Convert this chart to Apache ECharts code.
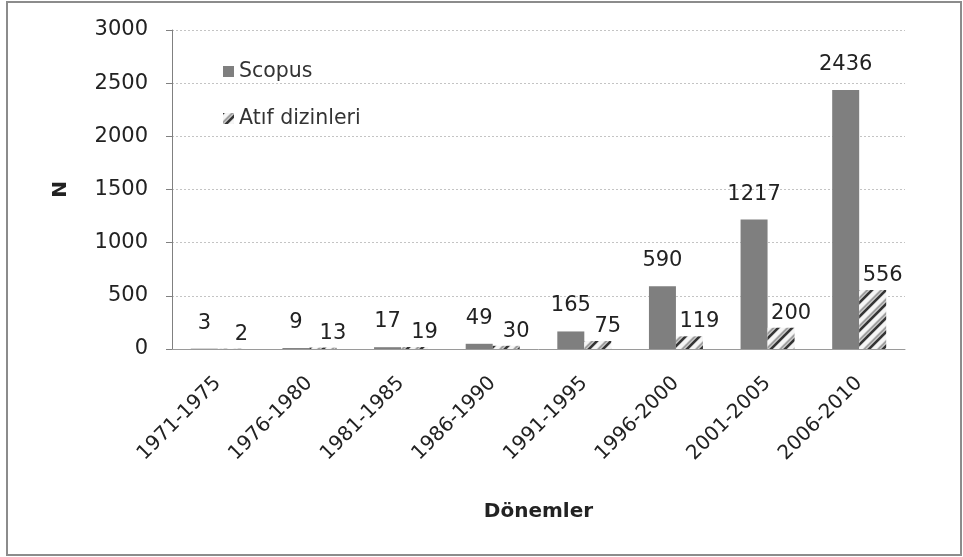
<!DOCTYPE html>
<html><head><meta charset="utf-8">
<script src="https://cdn.jsdelivr.net/npm/echarts@6/dist/echarts.min.js"></script>
<style>html,body{margin:0;padding:0;background:#fff}#c{width:963px;height:557px}</style>
</head><body><div id="c"></div>
<script>
var categories = ['1971-1975','1976-1980','1981-1985','1986-1990','1991-1995','1996-2000','2001-2005','2006-2010'];
var scopus = [3, 9, 17, 49, 165, 590, 1217, 2436];
var atif = [2, 13, 19, 30, 75, 119, 200, 556];
var yTicks = [0, 500, 1000, 1500, 2000, 2500, 3000];

function hatch() {
  var c = document.createElement('canvas');
  c.width = 14; c.height = 14;
  var g = c.getContext('2d');
  g.fillStyle = '#cfcfcf'; g.fillRect(0,0,14,14);
  g.lineCap = 'square';
  function stripe(off, col, w) {
    g.strokeStyle = col; g.lineWidth = w;
    for (var k = -2; k <= 2; k++) {
      g.beginPath(); g.moveTo(k*14 + off, 14); g.lineTo(k*14 + off + 14, 0); g.stroke();
    }
  }
  stripe(0, '#333333', 2.5);
  stripe(5, '#f6f6f6', 3.5);
  stripe(9.5, '#9a9a9a', 1.5);
  return c;
}
var pat = {image: hatch(), repeat: 'repeat'};
var F = 'DejaVu Sans';
var chart = echarts.init(document.getElementById('c'));
chart.setOption({
  animation: false,
  backgroundColor: '#fff',
  grid: {left: 172, right: 58, top: 30, bottom: 208, containLabel: false},
  legend: {
    orient: 'vertical', left: 218, top: 56, itemGap: 26,
    itemWidth: 11, itemHeight: 11, icon: 'rect',
    textStyle: {fontFamily: F, fontSize: 20.5, color: '#333'},
    data: ['Scopus', 'Atıf dizinleri']
  },
  xAxis: {
    type: 'category', data: categories,
    name: 'Dönemler', nameLocation: 'middle', nameGap: 153,
    nameTextStyle: {fontFamily: F, fontSize: 20, fontWeight: 'bold', color: '#222', verticalAlign: 'top'},
    axisLine: {lineStyle: {color: '#9a9a9a', width: 1}},
    axisTick: {show: false},
    axisLabel: {rotate: 45, interval: 0, fontFamily: F, fontSize: 20, color: '#222', margin: 31}
  },
  yAxis: {
    type: 'value', min: 0, max: 3000, interval: 500,
    name: 'N', nameLocation: 'middle', nameGap: 101, nameRotate: 90,
    nameTextStyle: {fontFamily: F, fontSize: 20, fontWeight: 'bold', color: '#222'},
    axisLine: {show: true, lineStyle: {color: '#808080'}},
    axisTick: {show: true, length: 6, lineStyle: {color: '#808080'}},
    splitLine: {lineStyle: {color: '#c4c4c4', type: [2, 2]}},
    axisLabel: {fontFamily: F, fontSize: 21, color: '#222', margin: 24,
      formatter: function (v) { return yTicks.indexOf(v) >= 0 ? String(v) : ''; }}
  },
  series: [
    {name: 'Scopus', type: 'bar', data: scopus, barWidth: 27, barGap: '0%',
     itemStyle: {color: '#7f7f7f'},
     label: {show: true, position: 'top', distance: 15, fontFamily: F, fontSize: 21, color: '#222'}},
    {name: 'Atıf dizinleri', type: 'bar', data: atif, barWidth: 27,
     itemStyle: {color: pat},
     label: {show: true, position: 'top', distance: 4, offset: [10, 0], fontFamily: F, fontSize: 21, color: '#222'}}
  ],
  graphic: [
    {type: 'rect', shape: {x: 7, y: 2, width: 954, height: 553},
     style: {fill: 'none', stroke: '#8c8c8c', lineWidth: 2}, silent: true}
  ]
});
</script></body></html>
